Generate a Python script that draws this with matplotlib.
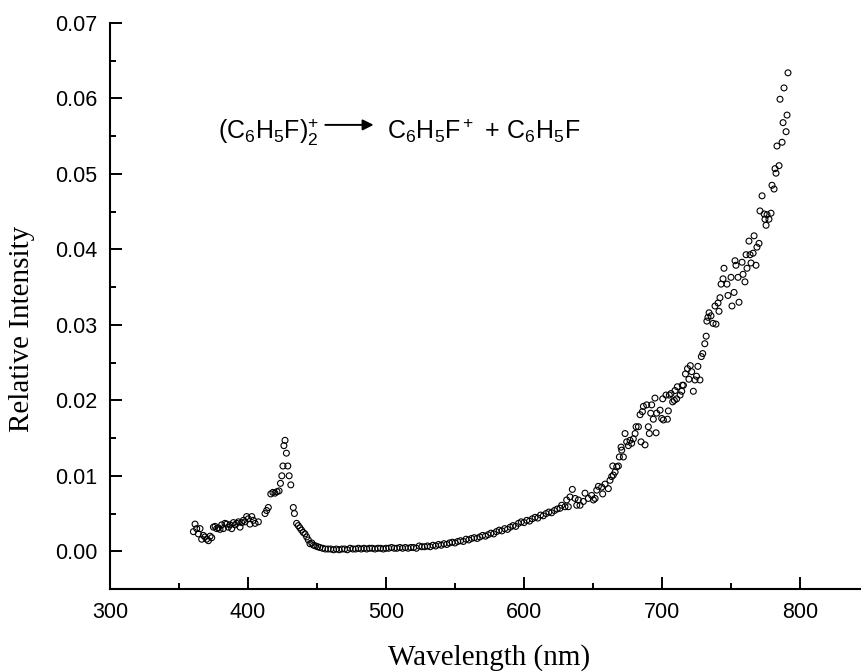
import numpy as np
import matplotlib
matplotlib.use('Agg')
import matplotlib.pyplot as plt
from matplotlib.ticker import MultipleLocator

# wavelength (nm) and relative intensity
wl_blue = [360.4, 361.6, 362.8, 364.0, 365.2, 366.4, 367.6, 368.8, 370.0, 371.3,
           372.5, 373.7, 374.9, 376.1, 377.3, 378.5, 379.7, 380.9, 382.1, 383.3,
           384.5, 385.7, 386.9, 388.2, 389.4, 390.6, 391.8, 393.0, 394.2, 395.4,
           396.6, 397.8, 399.0, 400.2, 401.4, 402.7, 403.9, 405.1, 407.5, 412.3,
           413.5, 414.7]
ri_blue = [0.0026, 0.0036, 0.0030, 0.0023, 0.0030, 0.0016, 0.0021, 0.0019, 0.0016, 0.0014,
           0.0020, 0.0018, 0.0032, 0.0033, 0.0030, 0.0031, 0.0029, 0.0035, 0.0030, 0.0037,
           0.0036, 0.0032, 0.0035, 0.0030, 0.0038, 0.0035, 0.0037, 0.0039, 0.0032, 0.0038,
           0.0041, 0.0039, 0.0046, 0.0043, 0.0036, 0.0046, 0.0041, 0.0037, 0.0039, 0.0050,
           0.0054, 0.0058]

wl_peak = [416.5, 418.0, 419.5, 421.0, 422.5, 423.5, 424.5, 425.3, 426.0, 426.8,
           427.8, 428.8, 429.8, 431.0, 432.8, 433.6, 435.2, 436.4, 437.6, 438.8,
           440.0, 441.3, 442.5, 443.7, 444.9, 446.2, 447.5, 449.0, 450.5, 452.0,
           454.0, 456.0, 458.0]
ri_peak = [0.0076, 0.0078, 0.0077, 0.0079, 0.0080, 0.0090, 0.0100, 0.0113, 0.0140, 0.0147,
           0.0130, 0.0113, 0.0100, 0.0088, 0.0058, 0.0050, 0.0037, 0.0034, 0.0031, 0.0028,
           0.0025, 0.0023, 0.0019, 0.0015, 0.0010, 0.0011, 0.0008, 0.0007, 0.0006, 0.0005,
           0.0004, 0.0003, 0.0003]

wl_flat = [460, 462, 464, 466, 468, 470, 472, 474, 476, 478, 480, 482, 484, 486, 488,
           490, 492, 494, 496, 498, 500, 502, 504, 506, 508, 510, 512, 514, 516, 518,
           520, 522, 524, 526, 528, 530, 532, 534, 536, 538, 540, 542, 544, 546, 548,
           550, 552, 554, 556, 558, 560, 562, 564, 566, 568, 570, 572, 574, 576, 578,
           580, 582, 584, 586, 588, 590, 592, 594, 596, 598, 600, 602, 604, 606, 608,
           610, 612, 614, 616, 618, 620, 622, 624]
ri_flat = [0.0003, 0.0002, 0.0003, 0.0002, 0.0003, 0.0003, 0.0002, 0.0004, 0.0003, 0.0003,
           0.0004, 0.0003, 0.0004, 0.0003, 0.0004, 0.0004, 0.0003, 0.0004, 0.0004, 0.0003,
           0.0004, 0.0004, 0.0005, 0.0004, 0.0004, 0.0005, 0.0004, 0.0005, 0.0004, 0.0005,
           0.0005, 0.0004, 0.0007, 0.0006, 0.0006, 0.0007, 0.0006, 0.0008, 0.0007, 0.0009,
           0.0008, 0.0010, 0.0009, 0.0011, 0.0012, 0.0011, 0.0013, 0.0014, 0.0013, 0.0016,
           0.0015, 0.0017, 0.0018, 0.0017, 0.0019, 0.0021, 0.0020, 0.0022, 0.0024, 0.0023,
           0.0026, 0.0028, 0.0027, 0.0030, 0.0029, 0.0032, 0.0034, 0.0033, 0.0037, 0.0039,
           0.0038, 0.0041, 0.0040, 0.0043, 0.0045, 0.0044, 0.0048, 0.0047, 0.0050, 0.0052,
           0.0051, 0.0054, 0.0056]

wl_rise = [626.1, 627.3, 629.7, 630.9, 632.1, 633.3, 635.0, 637.0, 638.2, 639.4,
           640.6, 643.0, 644.2, 646.6, 649.0, 650.3, 651.5, 652.7, 653.9, 656.3,
           657.0, 658.7, 661.1, 662.3, 663.5, 664.3, 664.7, 666.0, 667.2, 668.4,
           669.1, 670.3, 670.8, 672.0, 673.2, 674.4, 675.6, 676.8, 678.0, 679.2,
           680.5, 681.2, 682.9, 684.1, 684.8, 685.8, 686.5, 687.7, 688.9, 690.1,
           690.8, 691.8, 692.5, 693.7, 694.9, 695.7, 696.1, 698.6, 699.8, 700.5,
           701.0, 702.9, 703.9, 704.6, 705.3, 706.5, 707.7, 708.9, 709.4, 710.6,
           711.1, 713.1, 714.3, 714.7, 715.5, 717.0, 718.5, 719.5, 720.5, 721.5,
           722.7, 723.9, 725.0, 726.0, 727.5, 728.5, 729.5, 731.0, 732.0, 732.5]
ri_rise = [0.0057, 0.0061, 0.0059, 0.0068, 0.0059, 0.0072, 0.0082, 0.0070, 0.0061, 0.0068,
           0.0061, 0.0066, 0.0077, 0.0070, 0.0074, 0.0068, 0.0070, 0.0081, 0.0086, 0.0085,
           0.0076, 0.0089, 0.0083, 0.0094, 0.0099, 0.0113, 0.0101, 0.0105, 0.0112, 0.0113,
           0.0125, 0.0138, 0.0134, 0.0125, 0.0156, 0.0145, 0.0140, 0.0147, 0.0143, 0.0149,
           0.0156, 0.0165, 0.0165, 0.0181, 0.0145, 0.0185, 0.0192, 0.0141, 0.0194, 0.0165,
           0.0156, 0.0183, 0.0194, 0.0175, 0.0203, 0.0157, 0.0183, 0.0187, 0.0176, 0.0202,
           0.0174, 0.0207, 0.0175, 0.0186, 0.0207, 0.0209, 0.0198, 0.0200, 0.0213, 0.0202,
           0.0218, 0.0207, 0.0212, 0.0220, 0.0220, 0.0235, 0.0242, 0.0228, 0.0246, 0.0238,
           0.0212, 0.0227, 0.0232, 0.0245, 0.0227, 0.0258, 0.0262, 0.0275, 0.0285, 0.0305]

wl_red = [733.3, 734.1, 735.5, 737.0, 738.4, 739.1, 740.6, 741.3, 742.0, 742.8,
          744.2, 744.9, 747.1, 747.8, 750.0, 750.7, 752.2, 752.9, 753.6, 755.1,
          755.8, 758.0, 758.7, 760.1, 760.9, 761.6, 763.0, 763.8, 764.5, 766.0,
          766.7, 768.1, 768.8, 770.3, 771.0, 772.5, 774.0, 774.6, 775.4, 776.1,
          777.5, 779.0, 779.7, 781.2, 781.9, 782.6, 783.3, 784.8, 785.5, 787.0,
          787.7, 788.4, 789.9, 790.6, 791.3]
ri_red = [0.0310, 0.0316, 0.0312, 0.0302, 0.0325, 0.0301, 0.0329, 0.0318, 0.0336, 0.0354,
          0.0361, 0.0375, 0.0354, 0.0339, 0.0363, 0.0325, 0.0343, 0.0385, 0.0379, 0.0363,
          0.0330, 0.0383, 0.0367, 0.0357, 0.0393, 0.0375, 0.0411, 0.0393, 0.0382, 0.0395,
          0.0418, 0.0379, 0.0403, 0.0408, 0.0451, 0.0471, 0.0447, 0.0440, 0.0432, 0.0446,
          0.0440, 0.0448, 0.0485, 0.0480, 0.0507, 0.0501, 0.0537, 0.0511, 0.0599, 0.0542,
          0.0568, 0.0614, 0.0556, 0.0578, 0.0634]

wl = np.array(wl_blue + wl_peak + wl_flat + wl_rise + wl_red)
ri = np.array(ri_blue + ri_peak + ri_flat + ri_rise + ri_red)

SANS = 'Liberation Sans'
SERIF = 'Liberation Serif'
plt.rcParams['font.family'] = SANS
plt.rcParams['mathtext.fontset'] = 'custom'
plt.rcParams['mathtext.rm'] = SANS
plt.rcParams['mathtext.it'] = SANS

fig = plt.figure(figsize=(8.61, 6.71), dpi=100)
ax = fig.add_axes([0.1278, 0.1222, 0.8815, 0.8435])

ax.scatter(wl, ri, s=18, facecolors='none', edgecolors='black', linewidths=0.8)

ax.set_xlim(300, 850)
ax.set_ylim(-0.005, 0.07)
ax.xaxis.set_major_locator(MultipleLocator(100))
ax.xaxis.set_minor_locator(MultipleLocator(50))
ax.yaxis.set_major_locator(MultipleLocator(0.01))
ax.yaxis.set_minor_locator(MultipleLocator(0.005))
ax.yaxis.set_major_formatter(plt.FuncFormatter(lambda v, p: f'{v:.2f}'))
ax.set_xticks([300, 400, 500, 600, 700, 800])

for s in ('top', 'right'):
    ax.spines[s].set_visible(False)
for s in ('left', 'bottom'):
    ax.spines[s].set_linewidth(1.5)
ax.tick_params(which='both', direction='in', width=1.4, labelsize=15.5, pad=9)
ax.tick_params(which='major', length=8.5)
ax.tick_params(which='minor', length=4.3)

ax.set_xlabel('Wavelength (nm)', fontfamily=SERIF, fontsize=21)
ax.set_ylabel('Relative Intensity', fontfamily=SERIF, fontsize=21)
ax.xaxis.set_label_coords(0.5, -0.098)
ax.yaxis.set_label_coords(-0.099, 0.46)

# reaction scheme
ax.text(378, 0.0546, r'$\mathregular{(C_6H_5F)_2^{+}}$', fontsize=18, va='baseline')
ax.annotate('', xy=(491, 0.0565), xytext=(456, 0.0565),
            arrowprops=dict(arrowstyle='-|>', color='black', lw=1.4,
                            mutation_scale=16, shrinkA=0, shrinkB=0))
ax.text(501, 0.0546, r'$\mathregular{C_6H_5F^+{\,}+{\,}C_6H_5F}$', fontsize=18, va='baseline')

fig.savefig('out.png', dpi=100)
